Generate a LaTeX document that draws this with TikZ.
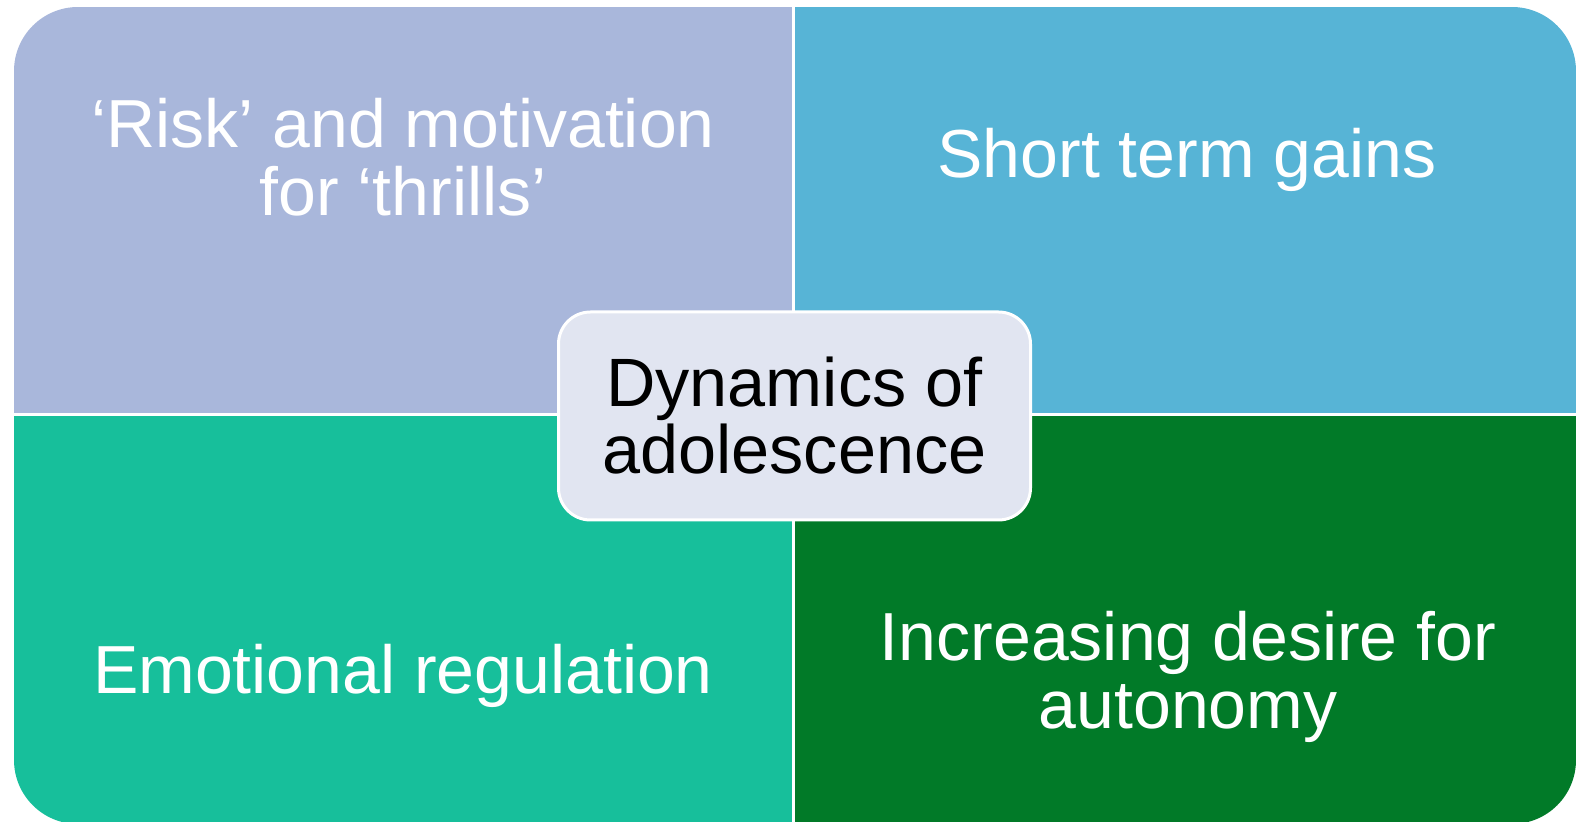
\documentclass[tikz,border=0pt]{standalone}
\usepackage{fontspec}
\setmainfont{Liberation Sans}
\definecolor{riskblue}{HTML}{A9B7DB}
\definecolor{gainblue}{HTML}{57B4D6}
\definecolor{emogreen}{HTML}{17BF9B}
\definecolor{autogreen}{HTML}{017A28}
\definecolor{corefill}{HTML}{E1E5F1}
\tikzset{
  quadtext/.style={text=white, align=center, font=\fontsize{34}{34}\selectfont},
  corebox/.style={draw=white, line width=1.5pt, fill=corefill, rounded corners=16pt,
    minimum width=236pt, minimum height=104pt, align=center,
    font=\fontsize{34.2}{33.5}\selectfont}
}

\begin{document}
\begin{tikzpicture}[x=0.5pt,y=-0.5pt]
\useasboundingbox (0,0) rectangle (1581,822);
\begin{scope}
\clip[rounded corners=32pt] (14,7) rectangle (1576,824);
\foreach \xa/\ya/\xb/\yb/\c in {14/7/793/415/riskblue,793/7/1576/415/gainblue,14/415/793/824/emogreen,793/415/1576/824/autogreen}
  \fill[\c] (\xa,\ya) rectangle (\xb,\yb);
\draw[white, line width=1.5pt] (793,7) -- (793,824);
\draw[white, line width=1.5pt] (14,415) -- (1576,415);
\end{scope}
\node[quadtext] (risk) at (403,157) {`Risk' and motivation\\for `thrills'};
\node[quadtext] (gains) at (1187,160) {Short term gains};
\node[quadtext] (emotion) at (403,676) {Emotional regulation};
\node[quadtext] (autonomy) at (1188,677) {Increasing desire for\\autonomy};
\node[corebox] (core) at (794.5,416) {Dynamics of\\adolescence};
\end{tikzpicture}
\end{document}
